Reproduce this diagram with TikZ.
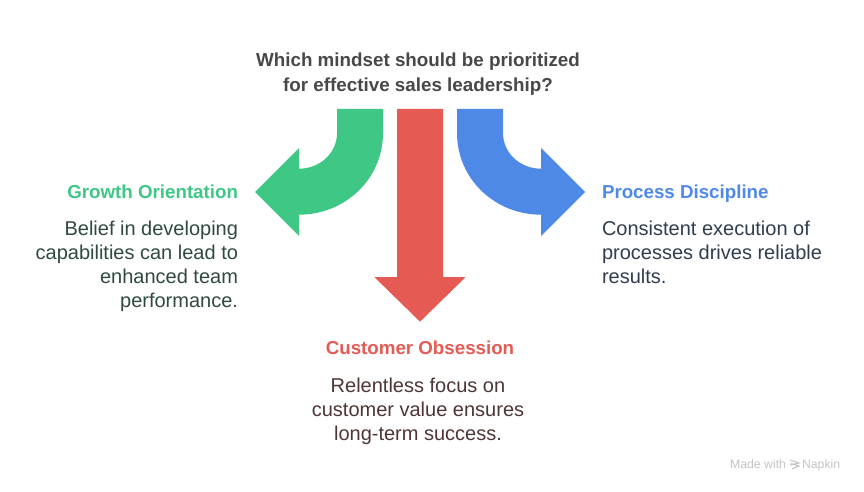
\documentclass[tikz,border=0pt]{standalone}
\usepackage{fontspec}
\setmainfont{Liberation Sans}
\definecolor{cgreen}{HTML}{3FC786}
\definecolor{cred}{HTML}{E65A54}
\definecolor{cblue}{HTML}{4F89E8}
\definecolor{cq}{HTML}{484848}
\definecolor{cgtext}{HTML}{2F4A42}
\definecolor{crtext}{HTML}{4F3535}
\definecolor{cbtext}{HTML}{2F3E4F}
\definecolor{cmark}{HTML}{C4C4C4}
\tikzset{
  px/.style={x=0.75pt,y=-0.75pt},
  lbl/.style={inner sep=0pt,outer sep=0pt},
  qtxt/.style={lbl,font=\fontsize{14.1}{18.8}\selectfont\bfseries},
  headtxt/.style={lbl,font=\fontsize{14.05}{17}\selectfont\bfseries},
  bodytxt/.style={lbl,font=\fontsize{15}{18}\selectfont},
  marktxt/.style={lbl,font=\fontsize{9.2}{10}\selectfont,text=cmark}
}
\begin{document}
\begin{tikzpicture}[px]
\useasboundingbox (0,0) rectangle (864,492);
\fill[white] (0,0) rectangle (864,492);
\node[qtxt,text=cq,align=center] (q) at (418,74) {Which mindset should be prioritized\\for effective sales leadership?};
% arrows
\fill[cgreen] (337,109) -- (383,109) -- (383,133) .. controls (383,179) and (345,214.7) .. (299,214.7) -- (299,236) -- (255,192) -- (299,148) -- (299,168.7) .. controls (320,168.7) and (337,153) .. (337,133) -- cycle;
\fill[cred] (397,109) -- (443,109) -- (443,277) -- (465.7,277) -- (420,321.7) -- (374.3,277) -- (397,277) -- cycle;
\fill[cblue] (503,109) -- (457,109) -- (457,133) .. controls (457,179) and (495,214.7) .. (541,214.7) -- (541,236) -- (585,192) -- (541,148) -- (541,168.7) .. controls (520,168.7) and (503,153) .. (503,133) -- cycle;
% labels
\node[headtxt,text=cgreen,anchor=base east] (gh) at (238,198) {Growth Orientation};
\node[bodytxt,text=cgtext,align=right,anchor=north east] (gb) at (238,221) {Belief in developing\\capabilities can lead to\\enhanced team\\performance.};
\node[headtxt,text=cblue,anchor=base west] (bh) at (602,198) {Process Discipline};
\node[bodytxt,text=cbtext,align=left,anchor=north west] (bb) at (602,221) {Consistent execution of\\processes drives reliable\\results.};
\node[headtxt,text=cred,anchor=base] (rh) at (420,354) {Customer Obsession};
\node[bodytxt,text=crtext,align=center,anchor=north] (rb) at (418,378) {Relentless focus on\\customer value ensures\\long-term success.};
% watermark
\node[marktxt,anchor=base east] (m1) at (786,468) {Made with};
\node[marktxt,anchor=base west] (m2) at (802,468) {Napkin};
\draw[cmark,line width=0.8pt] (790,460) -- (799,463) -- (790,465) (791,463.5) -- (799,466) -- (792,469);
\end{tikzpicture}
\end{document}
